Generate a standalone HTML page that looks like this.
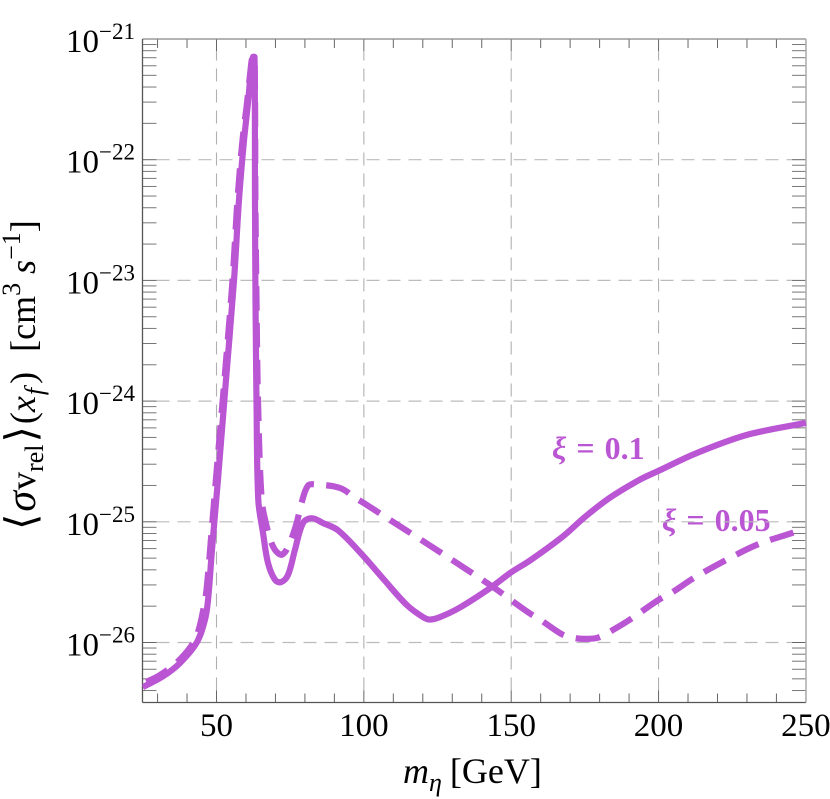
<!DOCTYPE html>
<html>
<head>
<meta charset="utf-8">
<title>Annihilation cross section chart</title>
<style>
html,body{margin:0;padding:0;background:#fff;}
#wrap{position:relative;width:830px;height:799px;overflow:hidden;}
svg{position:absolute;left:0;top:0;}
text{font-family:"Liberation Serif",serif;fill:#000;}
</style>
</head>
<body>
<div id="wrap">
<svg id="chart" width="830" height="799" viewBox="0 0 830 799">
  <text x="0" y="0" transform="translate(35,530) rotate(-90)" font-size="36"><tspan font-size="42">⟨</tspan><tspan font-size="42" font-style="italic" dx="2">σ</tspan><tspan dx="1">v</tspan><tspan font-size="26" dy="8">rel</tspan><tspan font-size="42" dy="-8" dx="2">⟩</tspan><tspan dx="2">(</tspan><tspan font-style="italic">x</tspan><tspan font-size="26" font-style="italic" dy="8" dx="1">f</tspan><tspan dy="-8" dx="4">)</tspan><tspan dx="20">[cm</tspan><tspan font-size="26" dy="-15">3</tspan><tspan dy="15" dx="9" font-style="italic">s</tspan><tspan font-size="26" dy="-15">−1</tspan><tspan dy="15">]</tspan></text>
  <text x="403" y="783" font-size="36"><tspan font-style="italic">m</tspan><tspan font-size="26" font-style="italic" dy="8">η</tspan><tspan dy="-8" dx="8">[GeV]</tspan></text>
  <text x="552" y="459" font-size="32" font-weight="bold" word-spacing="2" style="fill:#BA55D3"><tspan font-style="italic">ξ</tspan> = 0.1</text>
  <text x="662" y="531" font-size="32" font-weight="bold" word-spacing="2" style="fill:#BA55D3"><tspan font-style="italic">ξ</tspan> = 0.05</text>
</svg>
</div>
<script>
const xTickValues = [50, 100, 150, 200, 250];
const yDecades = [-21, -22, -23, -24, -25, -26];
const massSolid = [25,31.85,37.6,43.3,46.1,47.12,48.47,50.5,53.2,55.94,57.64,59.33,60.69,61.7,62.39,62.9,63.06,63.23,63.57,64.18,65.78,67.47,69.85,71.89,74.26,76.64,79.35,82.3,86.14,91.23,99.71,106.5,114.6,120.1,122.4,125.8,132.6,142.8,149.9,156.4,167.6,175,183.5,193.7,199.8,213,230,250];
const logSigmaSolid = [-26.37,-26.28,-26.17,-26.00,-25.81,-25.65,-25.23,-24.65,-23.83,-23.00,-22.33,-21.84,-21.53,-21.26,-21.15,-21.15,-22.33,-23.16,-23.99,-24.82,-25.09,-25.34,-25.48,-25.50,-25.44,-25.23,-25.01,-24.97,-25.01,-25.07,-25.28,-25.47,-25.69,-25.79,-25.81,-25.79,-25.71,-25.55,-25.42,-25.32,-25.12,-24.96,-24.80,-24.65,-24.58,-24.43,-24.28,-24.18];
const massDashed = [25,30.8,37.6,43,46.1,47.1,48.1,49.8,52.67,55.43,57.13,58.82,60.35,61.54,62.2,62.9,63.2,63.57,64.08,65.34,67.04,68.73,70.43,72.46,74.94,77.2,78.9,81.05,83.4,91.9,97.6,99.7,108.9,125.8,143.8,150.6,156.4,159.8,167.1,171,175,179.4,183.5,190.3,199.8,204.9,211.7,221.9,233.4,245.6,249];
const logSigmaDashed = [-26.34,-26.27,-26.14,-25.96,-25.65,-25.44,-25.15,-24.65,-23.83,-23.00,-22.33,-21.84,-21.53,-21.26,-21.15,-21.15,-22.33,-23.16,-23.99,-24.82,-25.04,-25.18,-25.25,-25.27,-25.17,-25.01,-24.84,-24.70,-24.69,-24.72,-24.81,-24.84,-24.985,-25.25,-25.54,-25.66,-25.76,-25.81,-25.93,-25.96,-25.97,-25.96,-25.91,-25.81,-25.65,-25.58,-25.47,-25.33,-25.19,-25.09,-25.06];

const svg = document.getElementById('chart');
const NS = 'http://www.w3.org/2000/svg';
const L = 142.5, R = 806, T = 39, B = 702.5;
const sx = v => 216.5 + (v - 50) * 2.947;
const sy = v => 39 + (-21 - v) * 120.7;

function make(tag, props) {
  const el = document.createElementNS(NS, tag);
  for (const k in props) el.setAttribute(k, props[k]);
  return el;
}
function smoothPath(xs, ys) {
  const p = xs.map((x, i) => [sx(x), sy(ys[i])]);
  const tan = i => {
    const a = p[Math.max(i - 1, 0)], c = p[Math.min(i + 1, p.length - 1)];
    const dx = c[0] - a[0], dy = c[1] - a[1], n = Math.hypot(dx, dy) || 1;
    return [dx / n, dy / n];
  };
  let d = 'M' + p[0][0].toFixed(2) + ' ' + p[0][1].toFixed(2);
  for (let i = 0; i < p.length - 1; i++) {
    const b = p[i], c = p[i + 1], tb = tan(i), tc = tan(i + 1);
    const h = Math.hypot(c[0] - b[0], c[1] - b[1]) / 3;
    d += 'C' + (b[0] + tb[0] * h).toFixed(2) + ' ' + (b[1] + tb[1] * h).toFixed(2) + ' ' +
      (c[0] - tc[0] * h).toFixed(2) + ' ' + (c[1] - tc[1] * h).toFixed(2) + ' ' +
      c[0].toFixed(2) + ' ' + c[1].toFixed(2);
  }
  return d;
}

const defs = make('defs', {});
const clip = make('clipPath', {id: 'plot-clip'});
clip.appendChild(make('rect', {x: L, y: T, width: R - L + 1, height: B - T}));
defs.appendChild(clip);
svg.appendChild(defs);

/* grid */
xTickValues.forEach(v => {
  if (v >= 250) return;
  const g = make('line', {x1: sx(v), x2: sx(v), y1: B - 12, y2: T + 12, stroke: '#b0b0b0', 'stroke-width': 1.1, 'stroke-dasharray': '13 8'});
  
  
  svg.appendChild(g);
});
yDecades.forEach(v => {
  if (v === -21) return;
  const g = make('line', {x1: L + 14, x2: R - 14, y1: sy(v), y2: sy(v), stroke: '#bcbcbc', 'stroke-width': 1.2, 'stroke-dasharray': '13 8'});
  
  
  svg.appendChild(g);
});

/* x ticks */
for (let v = 30; v <= 250; v += 10) {
  const len = v % 50 === 0 ? 12 : 9;
  [[B, B - len], [T, T + len]].forEach(e => {
    const t = make('line', {x1: sx(v), x2: sx(v), y1: e[0], y2: e[1], stroke: '#666', 'stroke-width': 1});
    
    
    svg.appendChild(t);
  });
}
/* y ticks */
yDecades.forEach(d => {
  for (let m = 1; m <= 9; m++) {
    const val = d - 1 + Math.log10(m);
    if (val < -26.5) continue;
    [[L, L + 14], [R, R - 14]].forEach(e => {
      const t = make('line', {x1: e[0], x2: e[1], y1: sy(val), y2: sy(val), stroke: m === 1 ? '#666' : '#777', 'stroke-width': 1});
      
      
      svg.appendChild(t);
    });
  }
});
const topTick = make('line', {x1: L, x2: L + 14, y1: sy(-21), y2: sy(-21), stroke: '#666', 'stroke-width': 1});


svg.appendChild(topTick);

/* frame */
const frameEdges = [
  [L, T, R, T, '#888', 1.3],
  [L, B, R, B, '#555', 1.3],
  [L, T, L, B, '#555', 1.3],
  [R, T, R, B, '#b0b0b0', 1.6]
];
frameEdges.forEach(f => {
  const e = make('line', {x1: f[0], y1: f[1], x2: f[2], y2: f[3], stroke: f[4], 'stroke-width': f[5]});
  
  
  svg.appendChild(e);
});

/* series */
const dashOn = 24.5, dashOff = 12.3;
const dashed = make('path', {d: smoothPath(massDashed, logSigmaDashed), fill: 'none', stroke: '#BA55D3', 'stroke-width': 6.2, 'stroke-dasharray': dashOn + ' ' + dashOff, 'clip-path': 'url(#plot-clip)', 'stroke-linejoin': 'miter'});


svg.appendChild(dashed);
/* phase the dashes so one ends 12.7px before the right frame, as in the reference */
(function () {
  const total = dashed.getTotalLength();
  const period = dashOn + dashOff;
  let s = total;
  while (s > 0 && dashed.getPointAtLength(s).x > R - 12.7) s -= 0.5;
  dashed.setAttribute('stroke-dashoffset', (((dashOn - s) % period) + period) % period);
})();
const solid = make('path', {d: smoothPath(massSolid, logSigmaSolid), fill: 'none', stroke: '#BA55D3', 'stroke-width': 6.2, 'clip-path': 'url(#plot-clip)', 'stroke-linejoin': 'round'});


svg.appendChild(solid);

/* tick labels */
xTickValues.forEach(v => {
  const t = make('text', {x: sx(v), y: 736, 'font-size': 33, 'text-anchor': 'middle'});
  
  
  t.textContent = String(v);
  svg.appendChild(t);
});
yDecades.forEach(d => {
  const t = make('text', {x: 66, y: sy(d) + 13, 'font-size': 33});
  
  
  t.textContent = '10';
  const s = make('tspan', {'font-size': 23, dy: -13});
  s.textContent = '−' + Math.abs(d);
  t.appendChild(s);
  svg.appendChild(t);
});
</script>
</body>
</html>
